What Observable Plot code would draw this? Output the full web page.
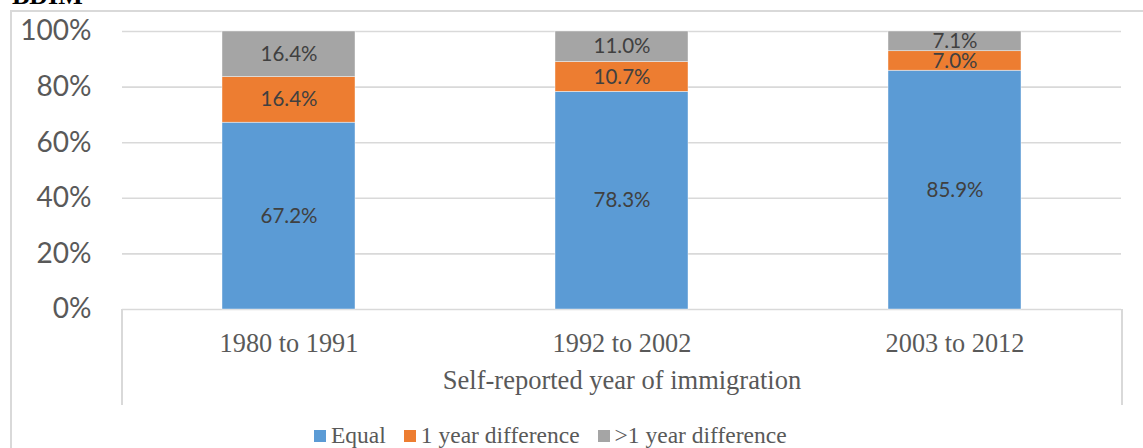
<!DOCTYPE html>
<html>
<head>
<meta charset="utf-8">
<script src="https://cdn.jsdelivr.net/npm/d3@7"></script>
<script src="https://cdn.jsdelivr.net/npm/@observablehq/plot@0.6"></script>
<style>
  html, body { margin: 0; padding: 0; background: #fff; overflow: hidden; }
  #wrap { position: relative; width: 1143px; height: 448px; overflow: hidden; }
  #outer { position: absolute; left: 10px; top: 10px; width: 1200px; height: 500px;
           border-left: 2px solid #d9d9d9; border-top: 2px solid #d9d9d9; }
  #title { position: absolute; left: 12px; top: -17px; font: bold 26px "Times New Roman", "Liberation Serif", Tinos, "DejaVu Serif", serif;
           line-height: 26px; color: #000; white-space: nowrap; }
  #catbox { position: absolute; left: 121px; top: 309px; width: 998px; height: 96px;
            border-left: 2px solid #d9d9d9; border-right: 2px solid #d9d9d9; }
  #chart { position: absolute; left: 0; top: 0; }
  #legend { position: absolute; left: 314px; top: 421px; display: flex; align-items: center;
            font: 23.5px "Times New Roman", "Liberation Serif", Tinos, "DejaVu Serif", serif; color: #595959; white-space: nowrap; line-height: 28px; }
  .item { display: flex; align-items: center; margin-right: 18px; }
  .sw { width: 12px; height: 12px; margin-right: 5px; margin-top: 2px; }
</style>
</head>
<body>
<div id="wrap">
  <div id="outer"></div>
  <div id="title">BDIM</div>
  <div id="catbox"></div>
  <div id="chart"></div>
  <div id="legend"></div>
</div>
<script>
const periods = ["1980 to 1991", "1992 to 2002", "2003 to 2012"];
const seriesNames = ["Equal", "1 year difference", ">1 year difference"];
const equalValues = [67.2, 78.3, 85.9];
const oneYearValues = [16.4, 10.7, 7.0];
const moreYearValues = [16.4, 11.0, 7.1];
const seriesColors = ["#5B9BD5", "#ED7D31", "#A5A5A5"];
const yTicks = [0, 20, 40, 60, 80, 100];
const xTitle = "Self-reported year of immigration";

const serif = "'Times New Roman', 'Liberation Serif', Tinos, 'DejaVu Serif', serif";

const seriesValues = [equalValues, oneYearValues, moreYearValues];
const rows = [];
periods.forEach((p, i) => {
  seriesNames.forEach((s, j) => rows.push({period: p, series: s, value: seriesValues[j][i]}));
});

const chart = Plot.plot({
  width: 1143,
  height: 410,
  marginLeft: 122,
  marginRight: 22,
  marginTop: 31,
  marginBottom: 101,
  style: {background: "transparent", overflow: "visible"},
  x: {domain: periods, paddingInner: 0.6, paddingOuter: 0.3},
  y: {domain: [0, 100]},
  color: {domain: seriesNames, range: seriesColors},
  marks: [
    Plot.ruleY(yTicks, {stroke: "#d9d9d9", strokeWidth: 1.6}),
    Plot.barY(rows, {x: "period", y: "value", fill: "series", order: seriesNames,
                     stroke: "#ffffff", strokeWidth: 0.6, strokeOpacity: 0.7}),
    Plot.text(rows, Plot.stackY({x: "period", y: "value", z: "series", order: seriesNames,
      text: d => d.value.toFixed(1) + "%", fill: "#404040", fontSize: 20.5, fontFamily: "Lato"})),
    Plot.axisY(yTicks, {tickSize: 0, tickPadding: 31, tickFormat: d => d + "%",
      fontSize: 28, fontFamily: "Lato", fill: "#595959", label: null}),
    Plot.axisX({tickSize: 0, tickPadding: 23.5, fontSize: 26.3, fontFamily: serif,
      fill: "#595959", label: null}),
    Plot.text([xTitle], {frameAnchor: "bottom", dy: 79.5, text: d => d, fontSize: 26.5,
      fontFamily: serif, fill: "#595959"})
  ]
});
document.getElementById("chart").appendChild(chart);

const legend = document.getElementById("legend");
seriesNames.forEach((s, i) => {
  const it = document.createElement("div");
  it.className = "item";
  const sw = document.createElement("span");
  sw.className = "sw";
  sw.style.background = seriesColors[i];
  const t = document.createElement("span");
  t.textContent = s;
  it.appendChild(sw);
  it.appendChild(t);
  legend.appendChild(it);
});
</script>
</body>
</html>
